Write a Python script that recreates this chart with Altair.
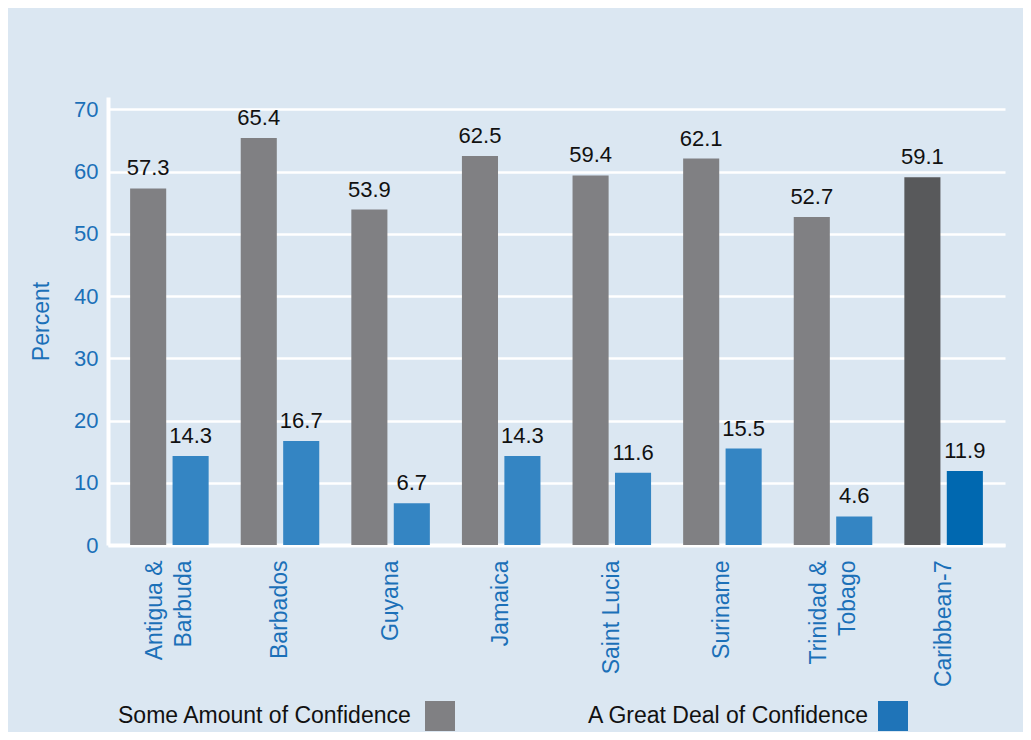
import altair as alt
import pandas as pd

countries = ["Antigua &|Barbuda", "Barbados", "Guyana", "Jamaica", "Saint Lucia",
             "Suriname", "Trinidad &|Tobago", "Caribbean-7"]
some_amount = [57.3, 65.4, 53.9, 62.5, 59.4, 62.1, 52.7, 59.1]
great_deal = [14.3, 16.7, 6.7, 14.3, 11.6, 15.5, 4.6, 11.9]
series = ["Some Amount of Confidence", "A Great Deal of Confidence"]

rows = []
for c, s, g in zip(countries, some_amount, great_deal):
    agg = c == "Caribbean-7"
    rows.append({"country": c, "series": series[0], "value": s,
                 "key": "some_agg" if agg else "some"})
    rows.append({"country": c, "series": series[1], "value": g,
                 "key": "great_agg" if agg else "great"})
df = pd.DataFrame(rows)

FONT = "Liberation Sans"
BLUE_TXT = "#1b70b8"
GRAY = "#808083"
BLUE = "#3485c3"

x = alt.X("country:N", sort=countries,
          scale=alt.Scale(paddingInner=0.29, paddingOuter=0.2),
          axis=alt.Axis(title=None, labelAngle=-90, labelAlign="right",
                        labelBaseline="middle", labelPadding=15,
                        labelExpr="split(datum.label, '|')",
                        labelOffset={"condition": {"test": "indexof(datum.value, '|') >= 0",
                                                   "value": -14},
                                     "value": 0},
                        labelLineHeight=29, labelFontSize=23,
                        labelColor=BLUE_TXT, labelFont=FONT, ticks=False,
                        domainColor="white", domainWidth=4))
xo = alt.XOffset("series:N", sort=series,
                 scale=alt.Scale(paddingInner=0.15, paddingOuter=0))
y = alt.Y("value:Q", scale=alt.Scale(domain=[0, 72], nice=False),
          axis=alt.Axis(title="Percent", values=[0, 10, 20, 30, 40, 50, 60, 70],
                        labelFontSize=22, labelColor=BLUE_TXT, labelFont=FONT,
                        labelPadding=10, ticks=False, titleFontSize=23,
                        titleColor=BLUE_TXT, titleFont=FONT, titleFontWeight="normal",
                        titlePadding=20, gridColor="white", gridWidth=2.5,
                        domainColor="white", domainWidth=4))

bars = alt.Chart(df).mark_bar().encode(
    x=x, xOffset=xo, y=y,
    color=alt.Color("key:N",
                    scale=alt.Scale(domain=["some", "great", "some_agg", "great_agg"],
                                    range=[GRAY, BLUE, "#58595b", "#0068b0"]),
                    legend=None),
)
labels = alt.Chart(df).mark_text(baseline="bottom", dy=-8, fontSize=22,
                                 font=FONT, color="#111111").encode(
    x=x, xOffset=xo, y=y, text=alt.Text("value:Q", format=".1f"))

leg1_t = alt.Chart(pd.DataFrame({"t": [series[0]]})).mark_text(
    align="left", baseline="middle", fontSize=23, font=FONT, color="#111111"
).encode(text="t:N", x=alt.value(10), y=alt.value(619))
leg1_s = alt.Chart(pd.DataFrame({"t": [series[0]]})).mark_square(
    size=900, color=GRAY, opacity=1).encode(x=alt.value(332), y=alt.value(619))
leg2_t = alt.Chart(pd.DataFrame({"t": [series[1]]})).mark_text(
    align="left", baseline="middle", fontSize=23, font=FONT, color="#111111"
).encode(text="t:N", x=alt.value(480), y=alt.value(619))
leg2_s = alt.Chart(pd.DataFrame({"t": [series[1]]})).mark_square(
    size=900, color="#1f74b8", opacity=1).encode(x=alt.value(785), y=alt.value(619))

chart = alt.layer(bars, labels, leg1_t, leg1_s, leg2_t, leg2_s).properties(
    width=897, height=448,
    padding={"left": 100, "top": 89, "right": 18, "bottom": 187},
    autosize=alt.AutoSizeParams(type="none"),
    background="#dbe7f2",
).configure_view(stroke=None, fill="#dbe7f2")

chart.save("out.html", embed_options={"renderer": "svg", "actions": False})
